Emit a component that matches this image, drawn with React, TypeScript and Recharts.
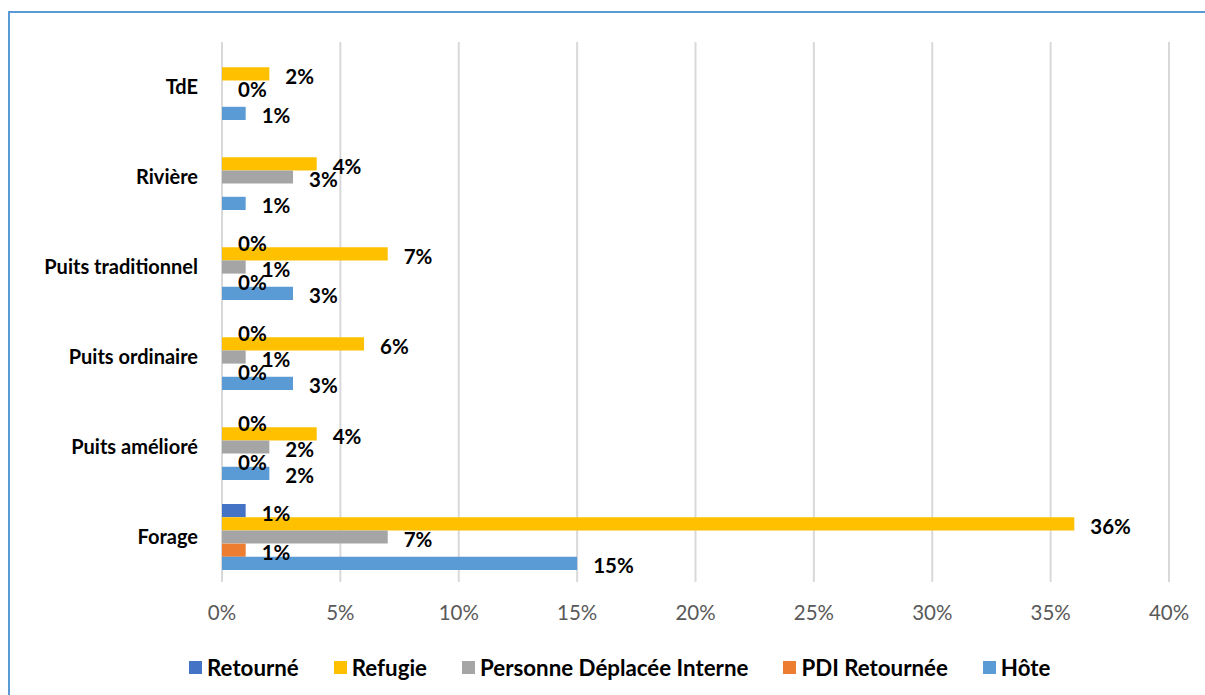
import React from "react";
import {
  BarChart,
  Bar,
  XAxis,
  YAxis,
  CartesianGrid,
  LabelList,
  Legend,
} from "recharts";

// categories, top to bottom
const categories = ["TdE", "Rivière", "Puits traditionnel", "Puits ordinaire", "Puits amélioré", "Forage"];

// values in % (null = no bar, no label)
const retourne: (number | null)[] = [null, null, 0, 0, 0, 1];
const refugie: (number | null)[] = [2, 4, 7, 6, 4, 36];
const pdi: (number | null)[] = [0, 3, 1, 1, 2, 7];
const pdiRetournee: (number | null)[] = [null, null, 0, 0, 0, 1];
const hote: (number | null)[] = [1, 1, 3, 3, 2, 15];

const xTicks = [0, 5, 10, 15, 20, 25, 30, 35, 40];

const SERIES = [
  { key: "retourne", name: "Retourné", color: "#4472C4" },
  { key: "refugie", name: "Refugie", color: "#FFC000" },
  { key: "pdi", name: "Personne Déplacée Interne", color: "#A5A5A5" },
  { key: "pdiRetournee", name: "PDI Retournée", color: "#ED7D31" },
  { key: "hote", name: "Hôte", color: "#5B9BD5" },
];

const FONT = "Lato, 'Noto Sans', sans-serif";

const data = categories.map((name, i) => ({
  name,
  retourne: retourne[i],
  refugie: refugie[i],
  pdi: pdi[i],
  pdiRetournee: pdiRetournee[i],
  hote: hote[i],
}));

// zero bars get a hairline so recharts keeps them (and their label)
const zeroPoint = (v: any) => (v === 0 ? 0.01 : 0);

const renderValueLabel = (props: any) => {
  const { x, y, width, height, value } = props;
  if (value === null || value === undefined) return null;
  return (
    <text
      x={Number(x) + Number(width) + 16}
      y={Number(y) + Number(height) / 2 + 2}
      textAnchor="start"
      dominantBaseline="central"
      fontFamily={FONT}
      fontWeight={700}
      fontSize={20.5}
      fill="#000"
    >
      {value}%
    </text>
  );
};

const renderLegend = () => (
  <div
    style={{
      height: 30,
      display: "flex",
      alignItems: "center",
      gap: 35,
      paddingLeft: 189,
      fontFamily: FONT,
      fontWeight: 700,
      fontSize: 22.3,
      color: "#000",
    }}
  >
    {SERIES.map((s) => (
      <div key={s.key} style={{ display: "flex", alignItems: "center", gap: 5 }}>
        <div style={{ width: 13, height: 13, background: s.color }} />
        <span>{s.name}</span>
      </div>
    ))}
  </div>
);

export default function App() {
  return (
    <div
      style={{
        position: "absolute",
        left: 0,
        top: 0,
        width: 1205,
        height: 695,
        overflow: "hidden",
        background: "#fff",
      }}
    >
      <div
        style={{
          position: "absolute",
          left: 8,
          top: 11,
          width: 1300,
          height: 800,
          border: "2px solid #5B9BD5",
          boxSizing: "border-box",
        }}
      />
      <div style={{ position: "absolute", left: 0, top: 0 }}>
        <BarChart
          width={1205}
          height={695}
          data={data}
          layout="vertical"
          margin={{ top: 42, right: 36, bottom: 13, left: 0 }}
          barSize={13.2}
          barGap={0}
        >
          <CartesianGrid horizontal={false} stroke="#d9d9d9" strokeWidth={2} />
          <XAxis
            type="number"
            domain={[0, 40]}
            ticks={xTicks}
            interval={0}
            tickFormatter={(v: number) => `${v}%`}
            axisLine={false}
            tickLine={false}
            tickSize={0}
            tickMargin={23}
            height={70}
            tick={{ fill: "#595959", fontSize: 20.5, fontFamily: FONT }}
          />
          <YAxis
            type="category"
            dataKey="name"
            width={222}
            axisLine={false}
            tickLine={false}
            tickSize={0}
            tickMargin={24}
            interval={0}
            tick={{ fill: "#000", fontSize: 20, fontFamily: FONT, fontWeight: 700 }}
          />
          <Legend
            verticalAlign="bottom"
            content={renderLegend}
            wrapperStyle={{ left: 0, width: 1205 }}
          />
          {SERIES.map((s) => (
            <Bar
              key={s.key}
              dataKey={s.key}
              name={s.name}
              fill={s.color}
              minPointSize={zeroPoint}
              isAnimationActive={false}
            >
              <LabelList dataKey={s.key} content={renderValueLabel} />
            </Bar>
          ))}
        </BarChart>
      </div>
    </div>
  );
}
